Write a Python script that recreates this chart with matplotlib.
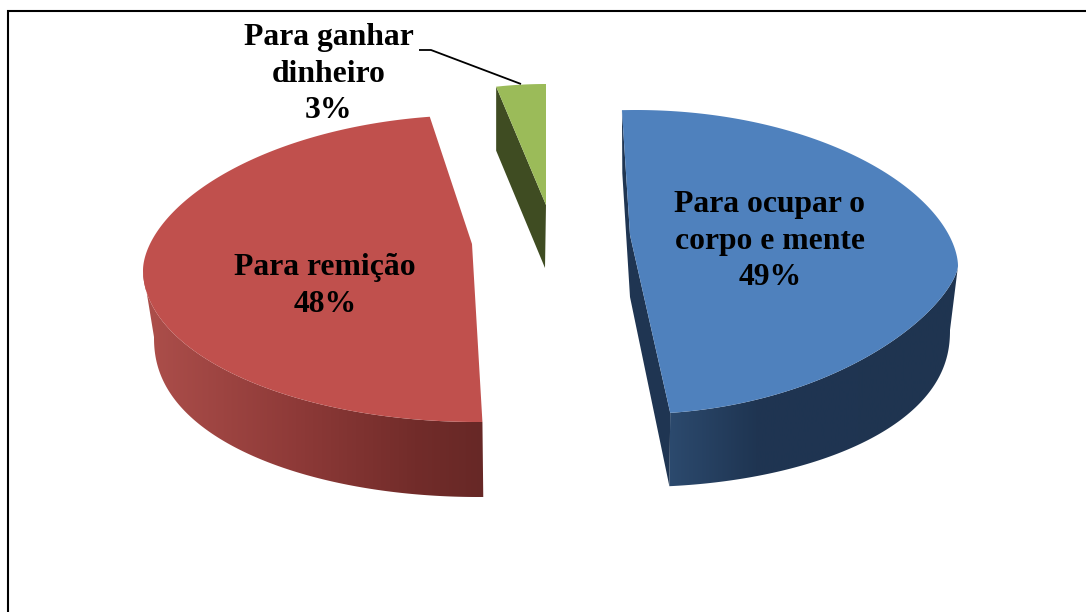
import numpy as np
import matplotlib
matplotlib.use("Agg")
import matplotlib.pyplot as plt
from matplotlib.colors import LinearSegmentedColormap
from matplotlib.patches import Polygon

labels = ["Para ocupar o\ncorpo e mente\n49%", "Para remição\n48%", "Para ganhar\ndinheiro\n3%"]
values = [49, 48, 3]
colors = ["#4F81BD", "#C0504D", "#9BBB59"]
wall_colors = ["#1F3552", "#6A2A28", "#3F4C22"]

# layout of each slice in picture pixels, the 3d look is faked with two curves
# cx, cy, a, b back, b front, power back, power front
start_angles = [-2.5, 179.07, -10.8]
tops = [(636, 266, 322, 156, 148, 1.12, 1.35), (477, 270, 334, 155, 152, 1.12, 1.0), (546, 236, 266, 152, 152, 1, 1)]
bottoms = [(636, 330, 314, 157, 157, 1, 0.9), (478, 337, 324, 160, 160, 1, 0.9), (546, 298, 266, 150, 150, 1, 1)]
apex_top = [(630, 235), (472, 244), (546, 205)]
apex_bottom = [(630, 297), (472, 306), (545, 268)]
label_pos = [(770, 241), (325, 286), (329, 74)]


def arc(ell, t1, t2, n=200):
    cx, cy, a, b_back, b_front, p_back, p_front = ell
    t = np.radians(np.linspace(t1, t2, n))
    c = np.cos(t)
    up = b_back * np.abs(c) ** p_back
    down = b_front * np.abs(c) ** p_front
    return np.column_stack([cx + a * np.sin(t), cy - np.where(c >= 0, up, -down)])


def gradient_wall(ax, pts, stops, x0, x1):
    poly = Polygon(pts, closed=True, fc="none", ec="none", transform=ax.transData)
    ax.add_patch(poly)
    cmap = LinearSegmentedColormap.from_list("wall", stops)
    grad = np.linspace(0, 1, 256).reshape(1, -1)
    im = ax.imshow(grad, extent=(x0, x1, 612, 0), cmap=cmap, aspect="auto", zorder=1)
    im.set_clip_path(poly)


fig = plt.figure(figsize=(10.86, 6.12), dpi=100)
ax = fig.add_axes([0, 0, 1, 1])

sweeps = np.array(values) / sum(values) * 360

# blue outer wall
t1, t2 = start_angles[0], start_angles[0] + sweeps[0]
pts = np.vstack([arc(tops[0], 90, t2), arc(bottoms[0], t2, 90)])
gradient_wall(ax, pts, [(0, "#2C4A6E"), (0.3, "#1F3552"), (1, "#1F3450")], 668, 960)
ax.add_patch(Polygon([arc(tops[0], t1, t1, 1)[0], apex_top[0], apex_bottom[0], arc(bottoms[0], t1, t1, 1)[0]],
                     fc=wall_colors[0], ec="none", zorder=2))
ax.add_patch(Polygon([apex_top[0], arc(tops[0], t2, t2, 1)[0], arc(bottoms[0], t2, t2, 1)[0], apex_bottom[0]],
                     fc=wall_colors[0], ec="none", zorder=2))

# red outer wall
t1, t2 = start_angles[1], start_angles[1] + sweeps[1]
pts = np.vstack([arc(tops[1], 270, t1), arc(bottoms[1], t1, 270)])
gradient_wall(ax, pts, [(0, "#AD4F4B"), (0.45, "#8E3A38"), (0.8, "#722C2A"), (1, "#672826")], 143, 484)

# green only shows its inner wall
t1 = start_angles[2]
ax.add_patch(Polygon([arc(tops[2], t1, t1, 1)[0], apex_top[2], apex_bottom[2], arc(bottoms[2], t1, t1, 1)[0]],
                     fc=wall_colors[2], ec="none", zorder=2))

# top faces
for i in range(len(values)):
    t1, t2 = start_angles[i], start_angles[i] + sweeps[i]
    pts = np.vstack([arc(tops[i], t1, t2), [apex_top[i]]])
    ax.add_patch(Polygon(pts, closed=True, fc=colors[i], ec="none", zorder=3))

for lab, pos in zip(labels, label_pos):
    ax.text(pos[0], pos[1], lab, ha="center", va="center", family="Liberation Serif", weight="bold",
            fontsize=22.8, linespacing=1.32, color="black", zorder=5)

# leader line of the small slice
ax.plot([419, 431, 521], [50, 50, 84], color="black", lw=1.3, zorder=4, solid_capstyle="butt")

# chart frame, only top and left fall inside the crop
ax.plot([7.5, 7.5, 1086], [612, 10.5, 10.5], color="black", lw=1.5, zorder=6, solid_joinstyle="miter")

ax.set_xlim(0, 1086)
ax.set_ylim(612, 0)
ax.axis("off")
fig.savefig("out.png", dpi=100, facecolor="white")
